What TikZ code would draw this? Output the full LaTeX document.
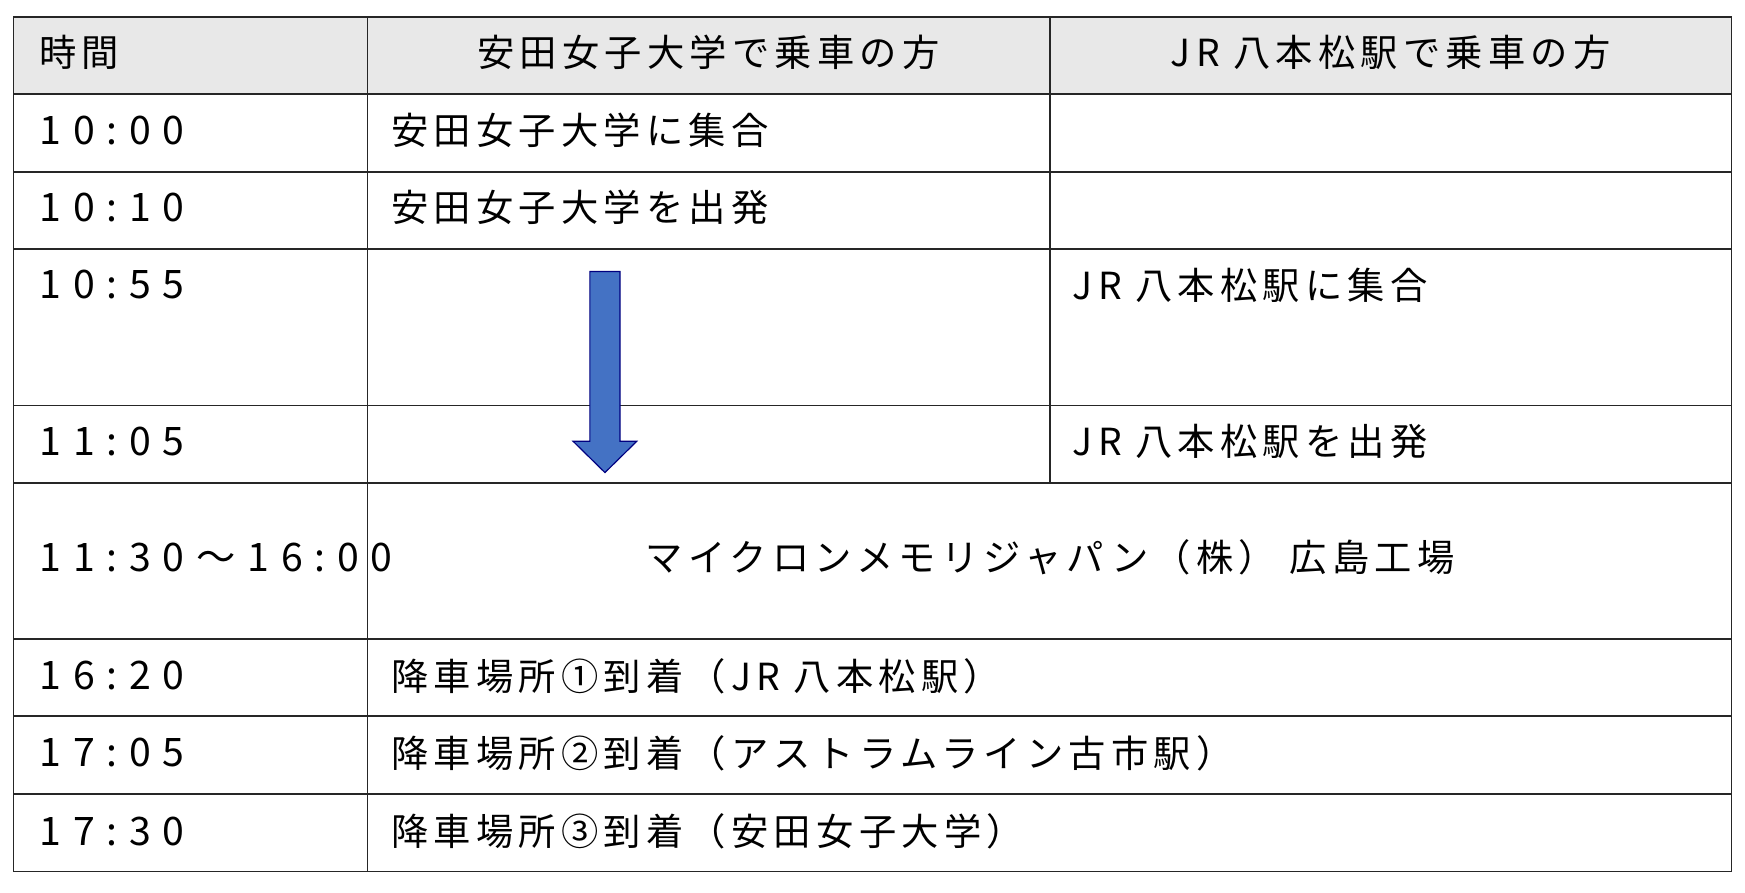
\documentclass[tikz,border=0pt]{standalone}
\usepackage{fontspec}
\setmainfont{Noto Sans CJK JP}[LetterSpace=14]
\begin{document}
\begin{tikzpicture}[x=0.02cm,y=-0.02cm,
  txt/.style={font=\fontsize{19}{22}\selectfont,inner sep=0pt,anchor=west},
  ctr/.style={font=\fontsize{19}{22}\selectfont,inner sep=0pt},
  tm/.style={font=\fontsize{20}{22}\selectfont\addfontfeatures{LetterSpace=30},inner sep=0pt,anchor=west},
  grid/.style={draw=black!85,line width=0.9pt}]
\useasboundingbox (0,0) rectangle (1562,799);
\fill[gray!18] (12,15) rectangle (1550,84);
\foreach \y in {15,84,154,223,363,432,572,641,711,780}
  \draw[grid] (12,\y) -- (1550,\y);
\draw[grid] (12,15) -- (12,780);
\draw[grid] (1550,15) -- (1550,780);
\draw[grid] (329,15) -- (329,780);
\draw[grid] (940,15) -- (940,432);
\draw[draw=blue!50!black,fill={rgb,255:red,68;green,114;blue,196},line width=0.6pt]
  (528,243) -- (555,243) -- (555,395) -- (570,395) -- (541.5,423) -- (513,395) -- (528,395) -- cycle;
\node[txt] (h1) at (35,47) {時間};
\node[ctr] (h2) at (634,47) {安田女子大学で乗車の方};
\node[ctr] (h3) at (1245,47) {JR 八本松駅で乗車の方};
\node[tm] (t1) at (35,117) {10:00};
\node[txt] (a1) at (350,117) {安田女子大学に集合};
\node[tm] (t2) at (35,186) {10:10};
\node[txt] (a2) at (350,186) {安田女子大学を出発};
\node[tm] (t3) at (35,255) {10:55};
\node[txt] (b3) at (960,255) {JR 八本松駅に集合};
\node[tm] (t4) at (35,395) {11:05};
\node[txt] (b4) at (960,395) {JR 八本松駅を出発};
\node[tm] (t5) at (35,499) {11:30～16:00};
\node[ctr] (m5) at (940,499) {マイクロンメモリジャパン（株） 広島工場};
\node[tm] (t6) at (35,605) {16:20};
\node[txt] (a6) at (350,605) {降車場所①到着（JR 八本松駅）};
\node[tm] (t7) at (35,674) {17:05};
\node[txt] (a7) at (350,674) {降車場所②到着（アストラムライン古市駅）};
\node[tm] (t8) at (35,744) {17:30};
\node[txt] (a8) at (350,744) {降車場所③到着（安田女子大学）};
\end{tikzpicture}
\end{document}
